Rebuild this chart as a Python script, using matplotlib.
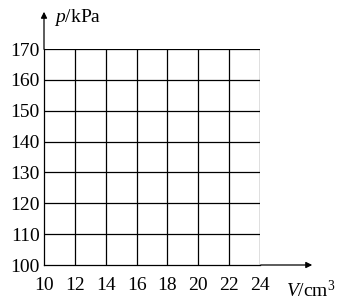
import matplotlib.pyplot as plt
import numpy as np

plt.rcParams['font.family'] = ['Liberation Serif', 'DejaVu Serif']
plt.rcParams['mathtext.fontset'] = 'custom'
plt.rcParams['mathtext.rm'] = 'Liberation Serif'
plt.rcParams['mathtext.it'] = 'Liberation Serif:italic'

volumes = [10, 12, 14, 16, 18, 20, 22, 24]
pressures = [100, 110, 120, 130, 140, 150, 160, 170]

fig = plt.figure(figsize=(3.48, 3.08), dpi=100)
W, H = 348, 308
ax = fig.add_axes([44 / W, (H - 265) / H, (260 - 44) / W, (265 - 49) / H])

ax.set_xlim(volumes[0], volumes[-1])
ax.set_ylim(pressures[0], pressures[-1])

# grid
for v in volumes[1:]:
    ax.axvline(v, color="black", linewidth=0.9)
for p in pressures[1:]:
    ax.axhline(p, color="black", linewidth=0.9)

for s in ["top", "right"]:
    ax.spines[s].set_visible(False)
for s in ["left", "bottom"]:
    ax.spines[s].set_linewidth(0.9)

ax.set_xticks(volumes)
ax.set_yticks(pressures)
ax.tick_params(length=0, labelsize=14, pad=3)
ax.tick_params(axis="x", pad=9)

# axis arrows
ax.annotate("", xy=(315 / W, (H - 265) / H), xytext=(258 / W, (H - 265) / H),
            xycoords="figure fraction",
            arrowprops=dict(arrowstyle="-|>", color="black", lw=0.9, mutation_scale=9))
ax.annotate("", xy=(44 / W, (H - 9) / H), xytext=(44 / W, (H - 52) / H),
            xycoords="figure fraction",
            arrowprops=dict(arrowstyle="-|>", color="black", lw=0.9, mutation_scale=9))

fig.text(54 / W, (H - 18) / H, r"$p$/kPa", fontsize=14, va="center", ha="left")
fig.text(286 / W, (H - 290) / H, r"$V$/cm$^3$", fontsize=14, va="center", ha="left")

fig.savefig("out.png", dpi=100)
